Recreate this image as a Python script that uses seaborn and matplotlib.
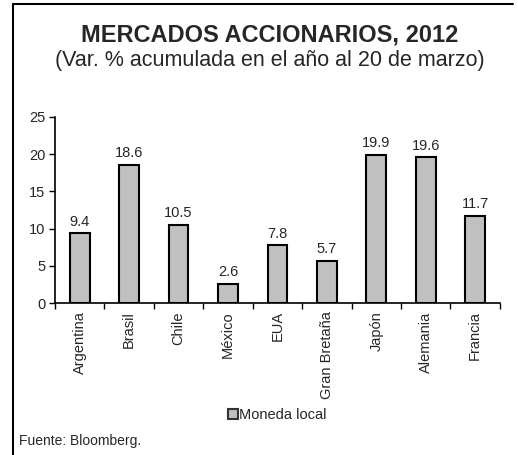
import matplotlib
matplotlib.use("Agg")
import matplotlib.pyplot as plt
import seaborn as sns
import pandas as pd
import numpy as np
from matplotlib.lines import Line2D
from matplotlib.patches import Patch

# ---------------------------------------------------------------------------
# Data
# ---------------------------------------------------------------------------
countries = ["Argentina", "Brasil", "Chile", "México", "EUA",
             "Gran Bretaña", "Japón", "Alemania", "Francia"]
values = [9.4, 18.6, 10.5, 2.6, 7.8, 5.7, 19.9, 19.6, 11.7]
yticks = [0, 5, 10, 15, 20, 25]

BAR_COLOR = "#c0c0c0"

sns.set_theme(style="white")
plt.rcParams["font.family"] = ["Liberation Sans", "DejaVu Sans"]

df = pd.DataFrame({"pais": countries, "var": values})

fig = plt.figure(figsize=(5.18, 4.55), dpi=100)
ax = fig.add_axes([0.106, 0.334, 0.859, 0.409])

sns.barplot(data=df, x="pais", y="var", color=BAR_COLOR, width=0.4,
            edgecolor="black", linewidth=1.5, saturation=1, ax=ax)

for bar, v in zip(ax.patches, values):
    ax.text(bar.get_x() + bar.get_width() / 2, v + 0.6, f"{v:.1f}",
            ha="center", va="bottom", fontsize=10.5)

ax.set_ylim(0, 25)
ax.set_xlim(-0.5, len(countries) - 0.5)
ax.set_yticks(yticks)
ax.set_xlabel("")
ax.set_ylabel("")
ax.tick_params(axis="y", direction="out", length=4, width=1, color="black",
               labelsize=10.5, pad=3, left=True)
ax.set_xticks(range(len(countries)))
ax.set_xticklabels(countries, rotation=90, fontsize=10.5)
ax.tick_params(axis="x", length=0, pad=6)
# category-boundary ticks
ax.set_xticks(np.arange(-0.5, len(countries)), minor=True)
ax.tick_params(axis="x", which="minor", direction="out", length=4,
               width=1, color="black", bottom=True)
for side in ["top", "right"]:
    ax.spines[side].set_visible(False)
for side in ["left", "bottom"]:
    ax.spines[side].set_color("black")
    ax.spines[side].set_linewidth(1.2)

# Titles
fig.text(0.52, 0.923, "MERCADOS ACCIONARIOS, 2012", ha="center", va="center",
         fontsize=17, fontweight="bold")
fig.text(0.52, 0.866, "(Var. % acumulada en el año al 20 de marzo)",
         ha="center", va="center", fontsize=15.5)

# Legend
handle = Patch(facecolor=BAR_COLOR, edgecolor="#333333", linewidth=1.5)
fig.legend([handle], ["Moneda local"], loc="center", bbox_to_anchor=(0.535, 0.088),
           frameon=False, fontsize=10.5, handlelength=0.7, handleheight=0.7,
           handletextpad=0.1)

fig.text(0.037, 0.03, "Fuente: Bloomberg.", ha="left", va="center", fontsize=10)

# Frame lines (top and left)
fig.add_artist(Line2D([0.026, 0.99], [0.991, 0.991], color="black", lw=1.5,
                      transform=fig.transFigure))
fig.add_artist(Line2D([0.026, 0.026], [0.0, 0.991], color="black", lw=1.5,
                      transform=fig.transFigure))

fig.savefig("out.png", dpi=100)
